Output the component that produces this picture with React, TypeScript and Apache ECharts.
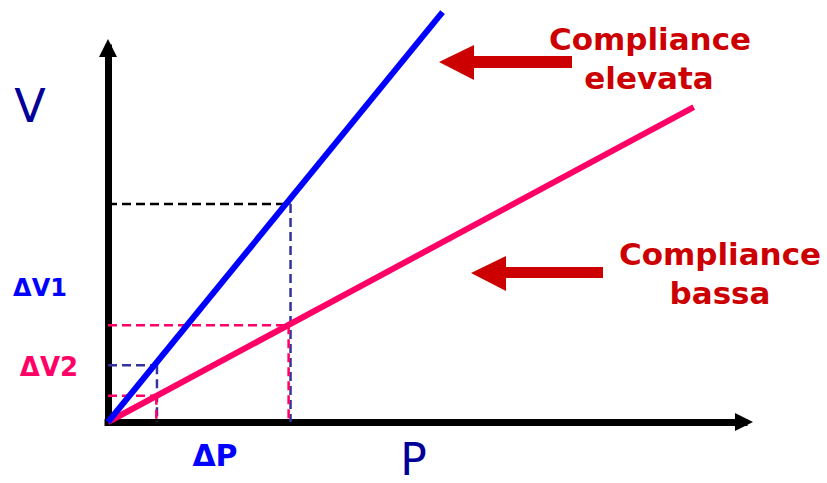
import React, { useEffect, useRef } from "react";
import * as echarts from "echarts";

// Pressure marks (ΔP small, large) in x units
const pMarks = [7.7, 28.7];
const pMarksLow = [7.6, 28.4];
// Volumes reached by high-compliance (blue) line at the pressure marks
const vHigh = [15.2, 58.3];
// Volumes reached by low-compliance (pink) line at the pressure marks
const vLow = [7.0, 25.9];
// Compliance lines (from origin to end point)
const highLine = [
  [0, 0],
  [52.6, 109.6],
];
const lowLine = [
  [0, 0],
  [92.1, 84.2],
];
const axisMax = 100;

const BLUE = "#0000ff";
const PINK = "#ff0066";
const NAVY = "#333399";
const RED = "#cc0000";
const FONT = "DejaVu Sans";

function dashed(data: number[][], color: string) {
  return {
    type: "line",
    data,
    symbol: "none",
    clip: false,
    lineStyle: { color, width: 2.5, type: [9, 5] },
    z: 2,
  };
}

export default function App() {
  const ref = useRef<HTMLDivElement>(null);
  useEffect(() => {
    if (!ref.current) return;
    const chart = echarts.init(ref.current, null, { renderer: "svg" });
    const axisCommon = {
      type: "value",
      min: 0,
      max: axisMax,
      axisLabel: { show: false },
      axisTick: { show: false },
      splitLine: { show: false },
      axisLine: {
        show: true,
        symbol: ["none", "triangle"],
        symbolSize: [18, 18],
        lineStyle: { color: "#000", width: 7, cap: "square" },
      },
    };
    const txt = (
      text: string,
      x: number,
      y: number,
      size: number,
      color: string,
      weight: string
    ) => ({
      type: "text",
      x,
      y,
      z: 10,
      style: {
        text,
        fill: color,
        font: `${weight} ${size}px "${FONT}"`,
        textAlign: "center",
        textVerticalAlign: "middle",
      },
    });
    chart.setOption({
      animation: false,
      backgroundColor: "#fff",
      grid: { left: 108, right: 83, top: 48, bottom: 61, containLabel: false },
      xAxis: axisCommon,
      yAxis: axisCommon,
      series: [
        // dashed guides (large ΔP)
        dashed([[0, vHigh[1]], [pMarks[1], vHigh[1]]], "#000"),
        dashed([[pMarks[1], vHigh[1]], [pMarks[1], 0]], NAVY),
        dashed([[0, vLow[1]], [pMarks[1], vLow[1]]], PINK),
        dashed([[pMarksLow[1], vLow[1]], [pMarksLow[1], 0]], PINK),
        // dashed guides (small ΔP)
        dashed([[0, vHigh[0]], [pMarks[0], vHigh[0]]], NAVY),
        dashed([[pMarks[0], vHigh[0]], [pMarks[0], 0]], NAVY),
        dashed([[0, vLow[0]], [pMarksLow[0], vLow[0]]], PINK),
        dashed([[pMarksLow[0], vLow[0]], [pMarksLow[0], 0]], PINK),
        {
          type: "line",
          data: lowLine,
          symbol: "none",
          clip: false,
          lineStyle: { color: PINK, width: 6 },
          z: 3,
        },
        {
          type: "line",
          data: highLine,
          symbol: "none",
          clip: false,
          lineStyle: { color: BLUE, width: 6 },
          z: 4,
        },
      ],
      graphic: [
        txt("V", 30, 105.5, 46, "#000099", "normal"),
        txt("P", 413.5, 459, 44, "#000099", "normal"),
        txt("ΔV1", 40, 287.5, 24, BLUE, "bold"),
        txt("ΔV2", 49, 366.5, 26, PINK, "bold"),
        txt("ΔP", 215, 455, 30, BLUE, "bold"),
        txt("Compliance", 650, 38.5, 31, RED, "bold"),
        txt("elevata", 649, 77.5, 31, RED, "bold"),
        txt("Compliance", 720, 253.5, 31, RED, "bold"),
        txt("bassa", 720, 292.5, 31, RED, "bold"),
        {
          type: "polygon",
          z: 10,
          shape: {
            points: [
              [439, 62],
              [474, 45],
              [474, 56],
              [572, 56],
              [572, 68],
              [474, 68],
              [474, 80],
            ],
          },
          style: { fill: RED },
        },
        {
          type: "polygon",
          z: 10,
          shape: {
            points: [
              [471, 273],
              [506, 256],
              [506, 267],
              [603, 267],
              [603, 278],
              [506, 278],
              [506, 291],
            ],
          },
          style: { fill: RED },
        },
      ],
    });
    return () => chart.dispose();
  }, []);
  return (
    <div
      ref={ref}
      style={{ position: "fixed", left: 0, top: 0, width: 827, height: 483 }}
    />
  );
}
